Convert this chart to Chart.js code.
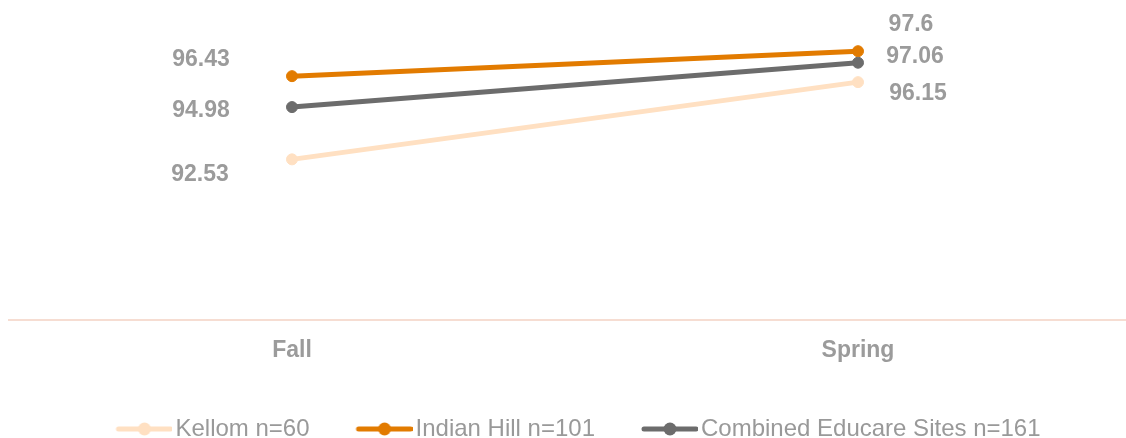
<!DOCTYPE html>
<html>
<head>
<meta charset="utf-8">
<script src="https://cdn.jsdelivr.net/npm/chart.js@4"></script>
<style>
  html, body { margin: 0; padding: 0; background: #fff; overflow: hidden; }
  canvas { display: block; }
</style>
</head>
<body>
<canvas id="scoreChart" width="1141" height="451"></canvas>
<script>
// Terms on the x axis
var terms = ['Fall', 'Spring'];

// Series names and their values per term
var seriesNames = ['Kellom n=60', 'Indian Hill n=101', 'Combined Educare Sites n=161'];
var kellom = [92.53, 96.15];
var indianHill = [96.43, 97.6];
var combined = [94.98, 97.06];

var seriesColors = ['#FFE0C2', '#E27B00', '#6C6C6C'];

// where each value label sits relative to its point (dx, dy in px)
var labelOffsets = [
    [[-92, 15], [60, 12]],
    [[-91, -17], [53, -27]],
    [[-91, 4], [57, -6]]
];

// legend marker: a short line with a dot in the middle
function makeMarker(color) {
    var c = document.createElement('canvas');
    c.width = 72;
    c.height = 18;
    var g = c.getContext('2d');
    var cy = 9;
    g.strokeStyle = color;
    g.lineWidth = 5;
    g.lineCap = 'round';
    g.beginPath();
    g.moveTo(18, cy);
    g.lineTo(70, cy);
    g.stroke();
    g.fillStyle = color;
    g.beginPath();
    g.arc(44, cy, 6.5, 0, Math.PI * 2);
    g.fill();
    return c;
}
var markers = seriesColors.map(makeMarker);

// draws the value next to every point
var valueLabels = {
    id: 'valueLabels',
    afterDatasetsDraw: function(chart) {
        var ctx = chart.ctx;
        ctx.save();
        ctx.font = 'bold 23px "Liberation Sans", Arial, sans-serif';
        ctx.fillStyle = '#9B9B9B';
        ctx.textAlign = 'center';
        ctx.textBaseline = 'middle';
        chart.data.datasets.forEach(function(ds, i) {
            var meta = chart.getDatasetMeta(i);
            meta.data.forEach(function(pt, j) {
                var off = labelOffsets[i][j];
                ctx.fillText(String(ds.data[j]), pt.x + off[0], pt.y + off[1]);
            });
        });
        ctx.restore();
    }
};

function series(i, values, order) {
    return {
        label: seriesNames[i],
        data: values,
        borderColor: seriesColors[i],
        backgroundColor: seriesColors[i],
        pointBackgroundColor: seriesColors[i],
        pointBorderColor: seriesColors[i],
        borderWidth: 5,
        pointRadius: 5.5,
        pointBorderWidth: 1,
        tension: 0,
        fill: false,
        clip: false,
        order: order
    };
}

var ctx = document.getElementById('scoreChart').getContext('2d');
var myLineChart = new Chart(ctx, {
    type: 'line',
    data: {
        labels: terms,
        datasets: [
            series(0, kellom, 2),
            series(1, indianHill, 1),
            series(2, combined, 0)
        ]
    },
    options: {
        responsive: false,
        animation: false,
        layout: { autoPadding: false, padding: { left: 9, right: 0, top: 0, bottom: 0 } },
        scales: {
            x: {
                offset: true,
                grid: { display: false, drawTicks: false, tickLength: 0 },
                border: { display: true, color: '#F6DDD2', width: 2 },
                ticks: {
                    color: '#9B9B9B',
                    padding: 17,
                    font: { family: '"Liberation Sans", Arial, sans-serif', size: 23, weight: 'bold' }
                },
                afterFit: function(scale) { scale.height = 57; }
            },
            y: {
                display: false,
                min: 85,
                max: 100
            }
        },
        plugins: {
            legend: {
                position: 'bottom',
                labels: {
                    usePointStyle: true,
                    pointStyleWidth: 54,
                    padding: 40,
                    color: '#999999',
                    font: { family: '"Liberation Sans", Arial, sans-serif', size: 24 },
                    sort: function(a, b) { return a.datasetIndex - b.datasetIndex; },
                    generateLabels: function(chart) {
                        var items = Chart.defaults.plugins.legend.labels.generateLabels(chart);
                        items.forEach(function(it) { it.pointStyle = markers[it.datasetIndex]; });
                        return items;
                    }
                }
            },
            tooltip: { enabled: false }
        }
    },
    plugins: [valueLabels]
});
</script>
</body>
</html>
